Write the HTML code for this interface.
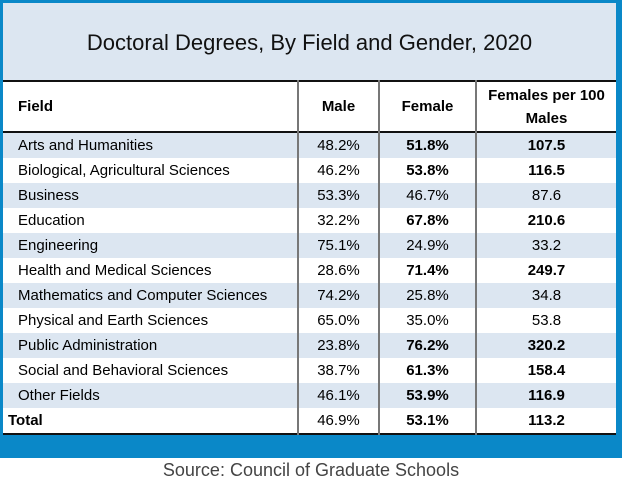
<!DOCTYPE html>
<html><head><meta charset="utf-8"><style>
body{margin:0;width:622px;height:485px;background:#fff;font-family:"Liberation Sans",sans-serif;position:relative;overflow:hidden}
#frame{position:absolute;left:0;top:0;width:622px;height:458px;background:#0a88c8}
#inner{position:absolute;left:3px;top:3px;width:613px;height:430px;background:#fff}
#title{position:absolute;left:0;top:0;width:613px;height:77px;background:#dce6f1;text-align:center;line-height:80px;font-size:22px;color:#111}
table{position:absolute;left:0;top:77px;width:613px;border-collapse:collapse;font-size:15px;color:#000}
td,th{padding:0;height:25px}
th{height:49px;font-weight:bold;font-size:15px;line-height:23px}
thead tr{border-top:2px solid #111;border-bottom:2px solid #111}
tbody tr:last-child{border-bottom:2px solid #111}
td+td,th+th{border-left:2px solid #777;text-align:center}
td:first-child,th:first-child{text-align:left;padding-left:15px}
tr.b{background:#dce6f1}
.bd{font-weight:bold}
tr.t td:first-child{padding-left:5px}
#src{position:absolute;left:0;width:622px;top:460px;text-align:center;font-size:18px;color:#444}
</style></head><body>
<div id="frame"></div>
<div id="inner">
<div id="title">Doctoral Degrees, By Field and Gender, 2020</div>
<table>
<colgroup><col style="width:295px"><col style="width:81px"><col style="width:97px"><col></colgroup>
<thead><tr><th>Field</th><th>Male</th><th>Female</th><th>Females per 100<br>Males</th></tr></thead>
<tbody>
<tr class="b"><td>Arts and Humanities</td><td>48.2%</td><td class="bd">51.8%</td><td class="bd">107.5</td></tr>
<tr><td>Biological, Agricultural Sciences</td><td>46.2%</td><td class="bd">53.8%</td><td class="bd">116.5</td></tr>
<tr class="b"><td>Business</td><td>53.3%</td><td>46.7%</td><td>87.6</td></tr>
<tr><td>Education</td><td>32.2%</td><td class="bd">67.8%</td><td class="bd">210.6</td></tr>
<tr class="b"><td>Engineering</td><td>75.1%</td><td>24.9%</td><td>33.2</td></tr>
<tr><td>Health and Medical Sciences</td><td>28.6%</td><td class="bd">71.4%</td><td class="bd">249.7</td></tr>
<tr class="b"><td>Mathematics and Computer Sciences</td><td>74.2%</td><td>25.8%</td><td>34.8</td></tr>
<tr><td>Physical and Earth Sciences</td><td>65.0%</td><td>35.0%</td><td>53.8</td></tr>
<tr class="b"><td>Public Administration</td><td>23.8%</td><td class="bd">76.2%</td><td class="bd">320.2</td></tr>
<tr><td>Social and Behavioral Sciences</td><td>38.7%</td><td class="bd">61.3%</td><td class="bd">158.4</td></tr>
<tr class="b"><td>Other Fields</td><td>46.1%</td><td class="bd">53.9%</td><td class="bd">116.9</td></tr>
<tr class="t"><td class="bd">Total</td><td>46.9%</td><td class="bd">53.1%</td><td class="bd">113.2</td></tr>
</tbody></table>
</div>
<div id="src">Source: Council of Graduate Schools</div>
</body></html>
